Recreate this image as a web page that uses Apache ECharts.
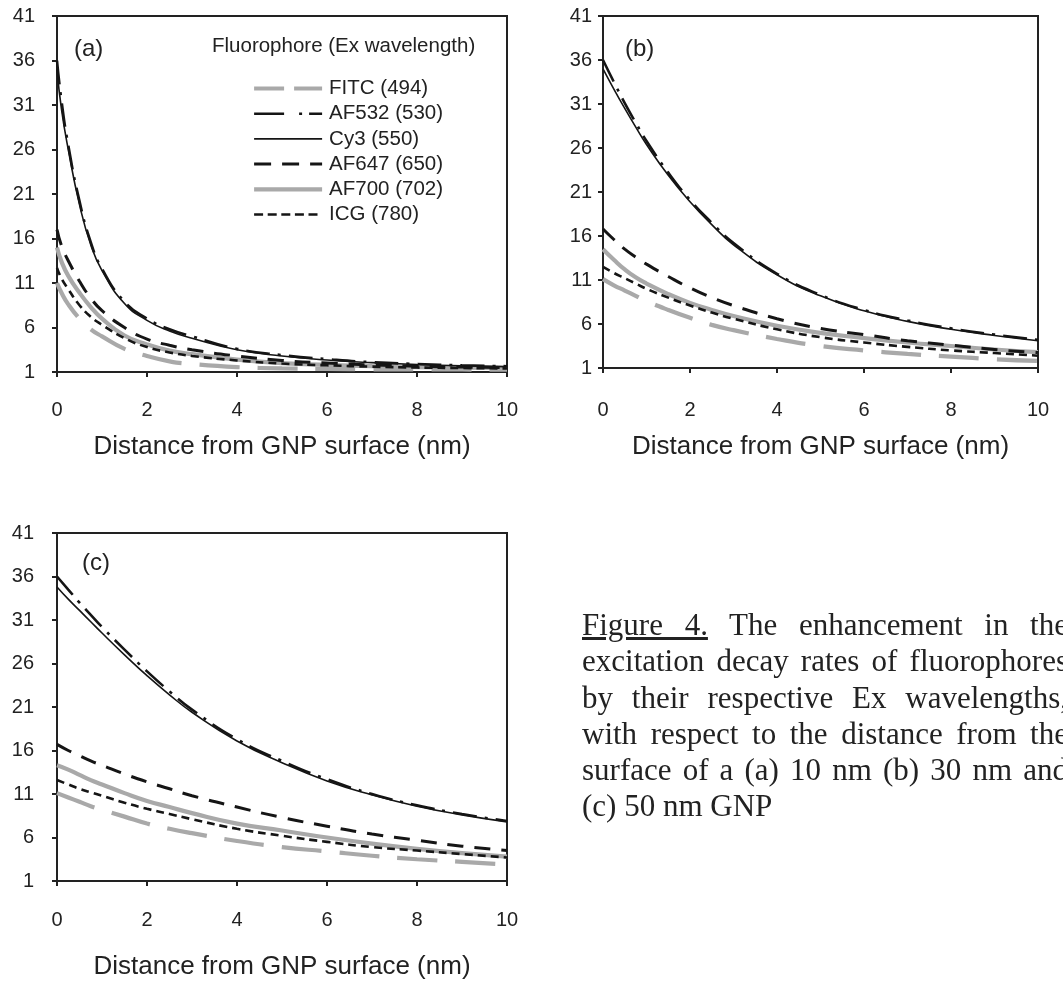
<!DOCTYPE html>
<html><head><meta charset="utf-8">
<script src="https://cdn.jsdelivr.net/npm/echarts@6/dist/echarts.min.js"></script>
<style>
html,body{margin:0;padding:0;background:#fff;overflow:hidden;width:1063px;height:983px;}
#chart{position:absolute;left:0;top:0;width:1063px;height:983px;}
#caption{position:absolute;left:582px;top:607px;width:486px;font-family:'Liberation Serif',serif;font-size:31px;line-height:36.3px;color:#222;}
#caption div{text-align:justify;text-align-last:justify;}
#caption div.last{text-align:left;text-align-last:left;}
</style></head>
<body>
<div id="chart"></div>
<div id="caption">
<div><span style="text-decoration:underline">Figure 4.</span> The enhancement in the</div>
<div>excitation decay rates of fluorophores</div>
<div>by their respective Ex wavelengths,</div>
<div>with respect to the distance from the</div>
<div>surface of a (a) 10 nm (b) 30 nm and</div>
<div class="last">(c) 50 nm GNP</div>
</div>
<script>
// ---- data ----
const seriesNames = ['FITC (494)', 'AF532 (530)', 'Cy3 (550)', 'AF647 (650)', 'AF700 (702)', 'ICG (780)'];
const panelLabels = ['(a)', '(b)', '(c)'];
const xTickLabels = ['0', '2', '4', '6', '8', '10'];
const yTickLabels = ['1', '6', '11', '16', '21', '26', '31', '36', '41'];
const xTitle = 'Distance from GNP surface (nm)';
const legendTitle = 'Fluorophore (Ex wavelength)';

// panel (a): 10 nm GNP
const xA = [0, 0.1, 0.25, 0.5, 0.75, 1, 1.5, 2, 2.5, 3, 4, 5, 6, 7, 8, 9, 10];
const fitcA  = [11, 9.9, 8.6, 7.0, 5.8, 5.0, 3.6, 2.8, 2.2, 1.9, 1.55, 1.4, 1.35, 1.3, 1.3, 1.28, 1.25];
const af532A = [36, 31.5, 26.5, 20.2, 15.6, 12.6, 8.9, 7.0, 5.8, 5.0, 3.6, 2.9, 2.45, 2.1, 1.9, 1.75, 1.65];
const cy3A   = [35, 30.5, 26, 19.8, 15.3, 12.4, 8.7, 6.8, 5.6, 4.8, 3.5, 2.8, 2.35, 2.05, 1.85, 1.7, 1.6];
const af647A = [17, 15.2, 13.5, 11.2, 9.3, 7.9, 6.0, 4.7, 4.0, 3.5, 2.8, 2.3, 2.0, 1.8, 1.65, 1.55, 1.5];
const af700A = [15, 13.4, 11.8, 9.9, 8.3, 7.0, 5.1, 4.1, 3.4, 3.0, 2.4, 2.0, 1.8, 1.65, 1.55, 1.5, 1.45];
const icgA   = [12.7, 11.5, 10.3, 8.5, 7.2, 6.3, 4.8, 3.8, 3.2, 2.8, 2.3, 1.95, 1.75, 1.6, 1.5, 1.45, 1.4];

// panels (b) and (c): 30 nm and 50 nm GNP
const xBC = [0, 0.25, 0.5, 0.75, 1, 1.5, 2, 2.5, 3, 4, 5, 6, 7, 8, 9, 10];
const fitcB  = [11.1, 10.4, 9.8, 9.2, 8.6, 7.6, 6.7, 5.9, 5.3, 4.3, 3.5, 3.0, 2.6, 2.3, 2.0, 1.8];
const af532B = [36, 33.5, 31.1, 28.9, 26.8, 23.2, 20.1, 17.5, 15.2, 11.7, 9.3, 7.6, 6.4, 5.5, 4.8, 4.2];
const cy3B   = [35, 32.7, 30.5, 28.4, 26.4, 22.9, 19.9, 17.3, 15.0, 11.6, 9.2, 7.5, 6.3, 5.4, 4.7, 4.1];
const af647B = [16.8, 15.6, 14.5, 13.6, 12.8, 11.4, 10.1, 9.0, 8.1, 6.6, 5.5, 4.8, 4.1, 3.6, 3.1, 2.75];
const af700B = [14.5, 13.3, 12.2, 11.3, 10.6, 9.4, 8.4, 7.6, 6.9, 5.8, 5.0, 4.4, 3.9, 3.5, 3.1, 2.8];
const icgB   = [12.5, 11.8, 11.2, 10.6, 10.0, 9.0, 8.1, 7.3, 6.6, 5.4, 4.5, 3.9, 3.4, 3.0, 2.7, 2.4];

const fitcC  = [11.1, 10.6, 10.1, 9.6, 9.2, 8.4, 7.6, 7.0, 6.5, 5.6, 4.9, 4.4, 3.9, 3.5, 3.2, 2.9];
const af532C = [36, 34.5, 33.0, 31.6, 30.2, 27.6, 25.1, 22.8, 20.7, 17.3, 14.8, 12.7, 11.0, 9.7, 8.7, 7.9];
const cy3C   = [34.8, 33.4, 32.1, 30.8, 29.5, 27.0, 24.6, 22.4, 20.4, 17.1, 14.6, 12.5, 10.9, 9.6, 8.6, 7.8];
const af647C = [16.7, 16.0, 15.4, 14.8, 14.3, 13.3, 12.4, 11.6, 10.8, 9.5, 8.3, 7.3, 6.4, 5.7, 5.0, 4.5];
const af700C = [14.3, 13.8, 13.2, 12.6, 12.1, 11.1, 10.2, 9.5, 8.8, 7.6, 6.8, 6.0, 5.3, 4.7, 4.2, 3.8];
const icgC   = [12.6, 12.1, 11.6, 11.2, 10.8, 10.0, 9.3, 8.7, 8.1, 7.0, 6.2, 5.5, 4.9, 4.5, 4.1, 3.7];

// ---- styles ----
const BLACK = '#151515', GRAY = '#a9a9a9', AXIS = '#222';
const FONT = 'Liberation Sans';
const lineStyles = [
  {color: GRAY, width: 4.2, type: [40, 18], legendType: [30, 10]},
  {color: BLACK, width: 2.6, type: [24, 8, 3, 8], legendType: [30, 15, 3, 7]},
  {color: BLACK, width: 1.6, type: 'solid', legendType: 'solid'},
  {color: BLACK, width: 3, type: [16, 11], legendType: [17, 11]},
  {color: GRAY, width: 4.2, type: 'solid', legendType: 'solid'},
  {color: BLACK, width: 2.6, type: [8, 5], legendType: [9, 4.6]}
];
const drawOrder = [4, 0, 3, 5, 1, 2];

const panels = [
  {x: xA, data: [fitcA, af532A, cy3A, af647A, af700A, icgA],
   grid: {left: 57, top: 16, width: 450, height: 356}, xMargin: 28, yMargin: 22, nameGap: 62},
  {x: xBC, data: [fitcB, af532B, cy3B, af647B, af700B, icgB],
   grid: {left: 603, top: 16, width: 435, height: 352}, xMargin: 32, yMargin: 11, nameGap: 66},
  {x: xBC, data: [fitcC, af532C, cy3C, af647C, af700C, icgC],
   grid: {left: 57, top: 533, width: 450, height: 348}, xMargin: 29, yMargin: 23, nameGap: 73}
];

const grids = [], xAxes = [], yAxes = [], series = [], graphics = [];
panels.forEach((p, i) => {
  grids.push(Object.assign({show: true, borderColor: AXIS, borderWidth: 2, backgroundColor: '#fff'}, p.grid));
  xAxes.push({
    type: 'value', gridIndex: i, min: 0, max: 10, interval: 2, position: 'bottom',
    name: xTitle, nameLocation: 'middle', nameGap: p.nameGap,
    nameTextStyle: {fontFamily: FONT, fontSize: 26, color: AXIS},
    axisLine: {show: true, onZero: false, lineStyle: {color: AXIS, width: 2}},
    axisTick: {show: true, inside: false, length: 5, lineStyle: {color: AXIS, width: 2}},
    axisLabel: {margin: p.xMargin, fontFamily: FONT, fontSize: 20, color: AXIS,
      formatter: v => xTickLabels[Math.round(v / 2)]},
    splitLine: {show: false}
  });
  // data axis (hidden)
  yAxes.push({type: 'value', gridIndex: i, min: 1, max: 41, show: false, position: 'right', splitLine: {show: false}});
  // label axis: same pixel extent, ticks at every 5 units starting from 1
  yAxes.push({
    type: 'value', gridIndex: i, min: 0, max: 40, interval: 5, position: 'left',
    axisLine: {show: true, onZero: false, lineStyle: {color: AXIS, width: 2}},
    axisTick: {show: true, inside: false, length: 5, lineStyle: {color: AXIS, width: 2}},
    axisLabel: {margin: p.yMargin, fontFamily: FONT, fontSize: 20, color: AXIS,
      formatter: v => yTickLabels[Math.round(v / 5)]},
    splitLine: {show: false}
  });
  drawOrder.forEach((k, z) => {
    const st = lineStyles[k];
    series.push({
      type: 'line', name: seriesNames[k], xAxisIndex: i, yAxisIndex: 2 * i,
      data: p.x.map((xv, j) => [xv, p.data[k][j]]),
      showSymbol: false, symbol: 'none', smooth: 0.5,
      z: 2 + z, silent: true, animation: false,
      lineStyle: {color: st.color, width: st.width, type: st.type, cap: 'butt'},
      itemStyle: {color: st.color}
    });
  });
  graphics.push({
    type: 'text', left: p.grid.left + (i === 1 ? 22 : (i === 0 ? 17 : 25)),
    top: (i === 2 ? 565 : 51) - 14,
    style: {text: panelLabels[i], fontFamily: FONT, fontSize: 24, fill: AXIS}
  });
});
graphics.push({
  type: 'text', left: 212, top: 36,
  style: {text: legendTitle, fontFamily: FONT, fontSize: 20.5, fill: AXIS}
});

const chart = echarts.init(document.getElementById('chart'), null, {renderer: 'canvas'});
chart.setOption({
  backgroundColor: '#fff',
  animation: false,
  grid: grids, xAxis: xAxes, yAxis: yAxes, series: series,
  legend: {
    orient: 'vertical', left: 247, top: 73, itemWidth: 68, itemHeight: 14, itemGap: 4.2,
    selectedMode: false,
    textStyle: {fontFamily: FONT, fontSize: 20.5, color: AXIS, padding: [0, 0, 0, 2], lineHeight: 20},
    data: seriesNames.map((n, k) => ({
      name: n,
      itemStyle: {color: 'rgba(0,0,0,0)', borderWidth: 0, opacity: 0},
      lineStyle: {color: lineStyles[k].color, width: lineStyles[k].width, type: lineStyles[k].legendType, cap: 'butt', opacity: 1}
    }))
  },
  graphic: graphics
});
</script>
</body></html>
